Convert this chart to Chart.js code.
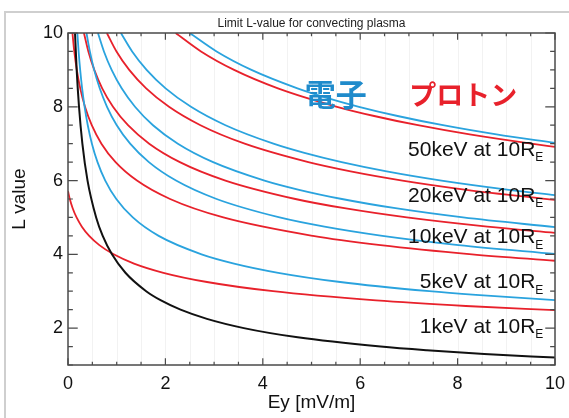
<!DOCTYPE html>
<html>
<head>
<meta charset="utf-8">
<script src="https://cdn.jsdelivr.net/npm/chart.js@4.4.1/dist/chart.umd.min.js"></script>
<style>
  html, body { margin: 0; padding: 0; background: #fff; }
  #wrap { width: 569px; height: 418px; position: relative; }
</style>
</head>
<body>
<div id="wrap"><canvas id="c" width="569" height="418"></canvas></div>
<script>
// Limit L-value for convecting plasma — each curve is a list of [Ey (mV/m), L] pairs.
const coldPlasma = [[0.144,10],[0.178,9],[0.226,8],[0.295,7],[0.401,6],[0.578,5],[0.713,4.5],[0.903,4],[1.179,3.5],[1.605,3],[1.910,2.75],[2.311,2.5],[2.853,2.25],[3.611,2],[4.716,1.75],[6.419,1.5],[7.369,1.4],[8.546,1.3],[10,1.202]];

const proton1keV  = [[0,5.711],[0.037,5.5],[0.096,5.25],[0.176,5],[0.285,4.75],[0.435,4.5],[0.644,4.25],[0.937,4],[1.355,3.75],[1.959,3.5],[2.854,3.25],[4.210,3],[6.325,2.75],[8.170,2.6],[10,2.486]];
const proton5keV  = [[0.091,10],[0.129,9.5],[0.181,9],[0.251,8.5],[0.349,8],[0.488,7.5],[0.686,7],[0.977,6.5],[1.416,6],[2.096,5.5],[3.190,5],[5.029,4.5],[6.418,4.25],[8.296,4],[10,3.826]];
const proton10keV = [[0.327,10],[0.418,9.5],[0.540,9],[0.702,8.5],[0.924,8],[1.232,7.5],[1.667,7],[2.297,6.5],[3.233,6],[4.669,5.5],[5.675,5.25],[6.958,5],[8.611,4.75],[10,4.582]];
const proton20keV = [[0.798,10],[0.996,9.5],[1.257,9],[1.605,8.5],[2.074,8],[2.720,7.5],[3.628,7],[4.935,6.5],[5.803,6.25],[6.867,6],[8.180,5.75],[10,5.475]];
const proton50keV = [[2.210,10],[2.731,9.5],[3.411,9],[4.311,8.5],[5.523,8],[6.287,7.75],[7.186,7.5],[8.248,7.25],[9.513,7],[10,6.915]];

const electron1keV  = [[0.192,10],[0.218,9.5],[0.250,9],[0.290,8.5],[0.341,8],[0.406,7.5],[0.491,7],[0.606,6.5],[0.765,6],[0.992,5.5],[1.331,5],[1.862,4.5],[2.742,4],[3.409,3.75],[4.317,3.5],[5.589,3.25],[7.419,3],[8.376,2.9],[10,2.761]];
const electron5keV  = [[0.380,10],[0.449,9.5],[0.537,9],[0.651,8.5],[0.801,8],[1.001,7.5],[1.276,7],[1.661,6.5],[2.218,6],[3.051,5.5],[4.345,5],[5.266,4.75],[6.456,4.5],[8.018,4.25],[10,4.011]];
const electron10keV = [[0.615,10],[0.738,9.5],[0.896,9],[1.102,8.5],[1.376,8],[1.745,7.5],[2.256,7],[2.980,6.5],[4.035,6],[4.745,5.75],[5.624,5.5],[6.723,5.25],[8.113,5],[10,4.737]];
const electron20keV = [[1.086,10],[1.317,9.5],[1.614,9],[2.004,8.5],[2.525,8],[3.234,7.5],[4.218,7],[4.854,6.75],[5.619,6.5],[6.543,6.25],[7.669,6],[9.054,5.75],[10,5.605]];
const electron50keV = [[2.499,10],[3.051,9.5],[3.767,9],[4.711,8.5],[5.295,8.25],[5.975,8],[6.768,7.75],[7.699,7.5],[8.798,7.25],[10,7.018]];

// Axis ticks
const xTicks = [0, 2, 4, 6, 8, 10];
const yTicks = [2, 4, 6, 8, 10];

// Energy labels (right-aligned at Ey = 9.76) and their baseline L values
const energyNames = ['50keV', '20keV', '10keV', '5keV', '1keV'];
const energyLabelL = [6.67, 5.43, 4.30, 3.08, 1.87];

const RED = '#e8212b';
const BLUE = '#2aa3de';
const SANS = '"Liberation Sans", Arial, sans-serif';
const CJK = '"Noto Sans CJK JP", "Noto Sans", sans-serif';

function toXY(arr) { return arr.map(([x, y]) => ({ x, y })); }
function curve(arr, color, width) {
  return {
    data: toXY(arr), borderColor: color, borderWidth: width || 1.8,
    pointRadius: 0, fill: false, cubicInterpolationMode: 'monotone'
  };
}

const decor = {
  id: 'decor',
  beforeDraw(chart) {
    const ctx = chart.ctx;
    ctx.save();
    ctx.fillStyle = '#fff';
    ctx.fillRect(0, 0, chart.width, chart.height);
    // page edge lines
    ctx.strokeStyle = '#cfcfcf';
    ctx.lineWidth = 2;
    ctx.beginPath();
    ctx.moveTo(5, chart.height); ctx.lineTo(5, 12); ctx.lineTo(chart.width, 12);
    ctx.stroke();
    ctx.restore();
  },
  beforeDatasetsDraw(chart) {
    const { ctx, chartArea: a, scales: { x } } = chart;
    ctx.save();
    ctx.strokeStyle = 'rgba(0,0,0,0.05)';
    ctx.lineWidth = 1;
    for (let v = 0.5; v < 10; v += 0.5) {
      const px = Math.round(x.getPixelForValue(v)) + 0.5;
      ctx.beginPath(); ctx.moveTo(px, a.top); ctx.lineTo(px, a.bottom); ctx.stroke();
    }
    ctx.restore();
  },
  afterDatasetsDraw(chart) {
    const { ctx, chartArea: a, scales: { x, y } } = chart;
    ctx.save();
    // frame
    ctx.strokeStyle = '#4a4a4a';
    ctx.lineWidth = 1.5;
    ctx.strokeRect(a.left, a.top, a.right - a.left, a.bottom - a.top);
    // inward ticks, major and minor, on all four sides
    const xMaj = 0.02 * (a.bottom - a.top), yMaj = 0.02 * (a.right - a.left);
    ctx.lineWidth = 1.2;
    ctx.beginPath();
    for (let v = 0; v <= 10.001; v += 0.5) {
      const px = x.getPixelForValue(v);
      const len = (Math.abs(v % 2) < 1e-6) ? xMaj : xMaj / 2;
      ctx.moveTo(px, a.bottom); ctx.lineTo(px, a.bottom - len);
      ctx.moveTo(px, a.top); ctx.lineTo(px, a.top + len);
    }
    for (let v = 1; v <= 10.001; v += 0.5) {
      const py = y.getPixelForValue(v);
      const len = (Math.abs(v % 2) < 1e-6) ? yMaj : yMaj / 2;
      ctx.moveTo(a.left, py); ctx.lineTo(a.left + len, py);
      ctx.moveTo(a.right, py); ctx.lineTo(a.right - len, py);
    }
    ctx.stroke();

    // title
    ctx.fillStyle = '#222';
    ctx.font = '12px ' + SANS;
    ctx.textAlign = 'center';
    ctx.textBaseline = 'middle';
    ctx.fillText('Limit L-value for convecting plasma', (a.left + a.right) / 2, a.top - 9.5);

    // species labels
    ctx.font = 'bold 31px ' + CJK;
    ctx.fillStyle = '#1f8bcb';
    ctx.fillText('電子', x.getPixelForValue(5.50), y.getPixelForValue(8.33));
    ctx.font = 'bold 27px ' + CJK;
    ctx.fillStyle = RED;
    ctx.fillText('プロトン', x.getPixelForValue(8.115), y.getPixelForValue(8.33));

    // energy labels "NkeV at 10R_E"
    ctx.fillStyle = '#111';
    ctx.textAlign = 'left';
    ctx.textBaseline = 'alphabetic';
    const right = x.getPixelForValue(9.76);
    energyNames.forEach((name, i) => {
      const main = name + ' at 10R';
      ctx.font = '21px ' + SANS;
      const wMain = ctx.measureText(main).width;
      ctx.font = '12px ' + SANS;
      const wSub = ctx.measureText('E').width;
      const x0 = right - wMain - wSub;
      const by = y.getPixelForValue(energyLabelL[i]);
      ctx.font = '21px ' + SANS;
      ctx.fillText(main, x0, by);
      ctx.font = '12px ' + SANS;
      ctx.fillText('E', x0 + wMain, by + 5.5);
    });
    ctx.restore();
  }
};

new Chart(document.getElementById('c'), {
  type: 'line',
  data: {
    datasets: [
      curve(coldPlasma, '#111111', 2),
      curve(proton1keV, RED), curve(electron1keV, BLUE),
      curve(proton5keV, RED), curve(electron5keV, BLUE),
      curve(proton10keV, RED), curve(electron10keV, BLUE),
      curve(proton20keV, RED), curve(electron20keV, BLUE),
      curve(proton50keV, RED), curve(electron50keV, BLUE)
    ]
  },
  options: {
    responsive: false,
    animation: false,
    devicePixelRatio: 1,
    layout: { padding: { left: 0, right: 14, top: 33, bottom: 0 } },
    plugins: { legend: { display: false }, tooltip: { enabled: false }, title: { display: false } },
    scales: {
      x: {
        type: 'linear', min: 0, max: 10,
        afterBuildTicks: s => { s.ticks = xTicks.map(v => ({ value: v })); },
        afterFit: s => { s.height = 53; s.paddingLeft = 0; s.paddingRight = 0; },
        grid: { display: false, drawTicks: false },
        border: { display: false },
        ticks: { color: '#111', font: { family: SANS, size: 18 }, padding: 8, maxRotation: 0, autoSkip: false },
        title: { display: true, text: 'Ey [mV/m]', color: '#111', font: { family: SANS, size: 19 }, padding: { top: 0, bottom: 4 } }
      },
      y: {
        type: 'linear', min: 1, max: 10,
        afterBuildTicks: s => { s.ticks = yTicks.map(v => ({ value: v })); },
        afterFit: s => { s.width = 68; s.paddingTop = 0; s.paddingBottom = 0; },
        grid: { display: false, drawTicks: false },
        border: { display: false },
        ticks: { color: '#111', font: { family: SANS, size: 18 }, padding: 5, autoSkip: false },
        title: { display: true, text: 'L value', color: '#111', font: { family: SANS, size: 19 }, padding: { top: 8, bottom: 0 } }
      }
    }
  },
  plugins: [decor]
});
</script>
</body>
</html>
